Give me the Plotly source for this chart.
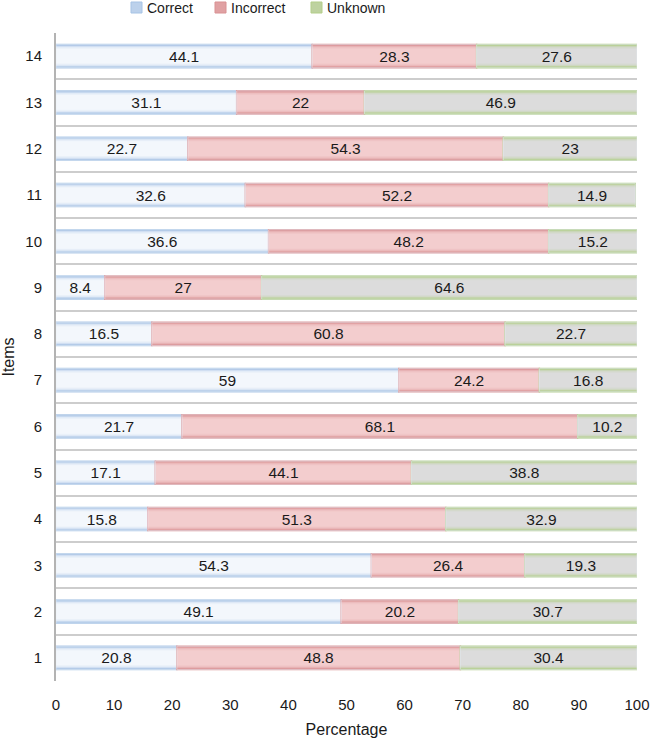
import plotly.graph_objects as go

items = list(range(1, 15))
correct = [20.8, 49.1, 54.3, 15.8, 17.1, 21.7, 59, 16.5, 8.4, 36.6, 32.6, 22.7, 31.1, 44.1]
incorrect = [48.8, 20.2, 26.4, 51.3, 44.1, 68.1, 24.2, 60.8, 27, 48.2, 52.2, 54.3, 22, 28.3]
unknown = [30.4, 30.7, 19.3, 32.9, 38.8, 10.2, 16.8, 22.7, 64.6, 15.2, 14.9, 23, 46.9, 27.6]
series_names = ["Correct", "Incorrect", "Unknown"]
x_ticks = [0, 10, 20, 30, 40, 50, 60, 70, 80, 90, 100]

W, H = 651, 739
L, R, T, B = 56, 14, 33, 58
PW, PH = W - L - R, H - T - B

styles = {
    "Correct": ((158, 189, 226), (243, 247, 252)),
    "Incorrect": ((214, 138, 140), (243, 205, 206)),
    "Unknown": ((174, 204, 128), (220, 220, 220)),
}


def mix(a, b, t):
    return "rgb(%d,%d,%d)" % tuple(round(a[i] + (b[i] - a[i]) * t) for i in range(3))


def px2x(px):
    return (px - L) / PW


def py2y(py):
    return (H - B - py) / PH


widths = [0.5, 0.47, 0.44, 0.41, 0.37, 0.32]
fracs = [0.0, 0.3, 0.55, 0.75, 0.9, 1.0]

fig = go.Figure()
base = [0.0] * len(items)
for name, vals in zip(series_names, [correct, incorrect, unknown]):
    edge, center = styles[name]
    for li, (w, t) in enumerate(zip(widths, fracs)):
        fig.add_trace(go.Bar(
            y=items, x=vals, base=base, orientation="h", width=w,
            marker=dict(color=mix(edge, center, t),
                        line=dict(color=mix(edge, center, 0.2), width=1.5 if li == 0 else 0)),
            name=name, showlegend=False, hoverinfo="skip",
        ))
    fig.add_trace(go.Bar(
        y=items, x=vals, base=base, orientation="h", width=0.5,
        marker=dict(color="rgba(0,0,0,0)"),
        text=[str(v) for v in vals], textposition="inside", insidetextanchor="middle",
        textfont=dict(size=15.5, color="#1a1a1a", family="Liberation Sans, Arial"),
        constraintext="none", textangle=0,
        showlegend=False, hoverinfo="skip", name=name,
    ))
    base = [b + v for b, v in zip(base, vals)]

# legend drawn manually (square + label)
legend_sq = [(131, 142), (215, 226), (311, 322)]
shapes, annots = [], []
for name, (x0, x1) in zip(series_names, legend_sq):
    edge, center = styles[name]
    shapes.append(dict(type="rect", xref="paper", yref="paper",
                       x0=px2x(x0), x1=px2x(x1), y0=py2y(13), y1=py2y(2),
                       fillcolor=mix(edge, center, 0.35), line=dict(color=mix(edge, center, 0.1), width=1)))
    annots.append(dict(text=name, xref="paper", yref="paper", x=px2x(x1 + 3), y=py2y(8),
                       xanchor="left", yanchor="middle", showarrow=False,
                       font=dict(size=14, color="#1a1a1a")))

fig.update_layout(
    barmode="overlay",
    width=W, height=H,
    margin=dict(l=L, r=R, t=T, b=B, autoexpand=False),
    plot_bgcolor="white", paper_bgcolor="white",
    font=dict(family="Liberation Sans, Arial", size=15, color="#1a1a1a"),
    showlegend=False,
    shapes=shapes, annotations=annots,
    xaxis=dict(range=[0, 100], tickvals=x_ticks, showgrid=False, zeroline=False,
               title=dict(text="Percentage", font=dict(size=16), standoff=11),
               ticks="", showline=False, tickfont=dict(size=15), automargin=False,
               ticklabelstandoff=13),
    yaxis=dict(range=[0.5, 14.5], tickvals=items, showgrid=False, zeroline=False,
               title=dict(text="Items", font=dict(size=16), standoff=9),
               ticks="", tickfont=dict(size=15), automargin=False,
               ticklabelstandoff=9,
               showline=True, linecolor="#b3b3b3", linewidth=2,
               minor=dict(tickvals=[i + 0.5 for i in range(0, 15)], showgrid=True,
                          gridcolor="#cdcdcd", gridwidth=1.5, ticks="")),
)

fig.write_html("out.html", config={"displayModeBar": False},
               post_script="document.body.style.margin='0';")
